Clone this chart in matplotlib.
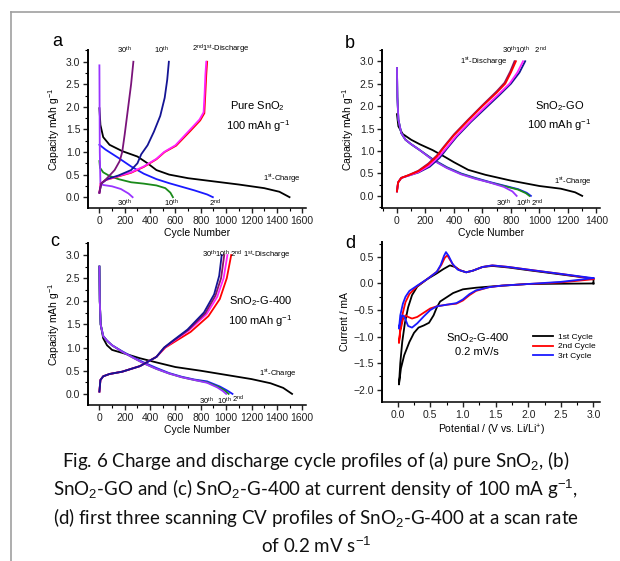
import numpy as np
import matplotlib
matplotlib.use('Agg')
import matplotlib.pyplot as plt
from matplotlib.ticker import MultipleLocator, AutoMinorLocator
from matplotlib.lines import Line2D

plt.rcParams['font.family'] = 'Liberation Sans'
plt.rcParams['mathtext.fontset'] = 'custom'
plt.rcParams['mathtext.rm'] = 'Liberation Sans'
plt.rcParams['mathtext.it'] = 'Liberation Sans'

# ---- panel a: pure SnO2 ----
a_ch1_x = [0, 8, 30, 80, 180, 300, 380, 450, 550, 700, 900, 1100, 1300, 1420, 1500]
a_ch1_y = [1.97, 1.6, 1.33, 1.16, 1.02, 0.9, 0.75, 0.6, 0.5, 0.42, 0.35, 0.28, 0.2, 0.12, 0.0]
a_ch2_x = [0, 50, 150, 250, 350, 450, 550, 650, 750, 850, 895]
a_ch2_y = [1.16, 1.05, 0.87, 0.68, 0.52, 0.4, 0.31, 0.23, 0.15, 0.06, 0.0]
a_ch10_x = [0, 5, 30, 80, 150, 250, 350, 450, 520, 560, 580]
a_ch10_y = [0.8, 0.65, 0.55, 0.47, 0.4, 0.33, 0.3, 0.26, 0.2, 0.1, 0.0]
a_ch30_x = [0, 3, 8, 30, 100, 170, 230, 262]
a_ch30_y = [2.92, 1.0, 0.3, 0.27, 0.24, 0.18, 0.08, 0.0]
a_dis1_x = [0, 10, 50, 150, 250, 350, 450, 510, 600, 710, 790, 822, 830, 836, 843]
a_dis1_y = [0.1, 0.3, 0.38, 0.47, 0.55, 0.68, 0.85, 1.0, 1.15, 1.48, 1.72, 1.88, 2.3, 2.7, 3.0]
a_dis2_x = [0, 10, 50, 150, 250, 350, 450, 515, 605, 715, 795, 828, 836, 843, 850]
a_dis2_y = [0.1, 0.3, 0.38, 0.46, 0.54, 0.67, 0.84, 1.0, 1.14, 1.46, 1.7, 1.86, 2.3, 2.7, 3.0]
a_dis10_x = [0, 15, 60, 150, 250, 300, 330, 380, 430, 480, 515, 535, 548]
a_dis10_y = [0.1, 0.3, 0.4, 0.48, 0.6, 0.75, 0.95, 1.15, 1.45, 1.8, 2.2, 2.6, 3.0]
a_dis30_x = [0, 15, 60, 120, 160, 180, 200, 225, 250, 268]
a_dis30_y = [0.1, 0.3, 0.42, 0.6, 0.8, 1.0, 1.4, 1.95, 2.5, 3.0]

# ---- panel b: SnO2-GO ----
b_ch1_x = [0, 10, 40, 100, 160, 250, 330, 400, 500, 620, 800, 1000, 1150, 1250, 1300]
b_ch1_y = [1.82, 1.55, 1.38, 1.25, 1.15, 1.02, 0.88, 0.75, 0.58, 0.47, 0.34, 0.22, 0.16, 0.08, 0.0]
b_ch2_x = [0, 3, 10, 30, 60, 100, 160, 250, 350, 450, 550, 650, 750, 850, 910, 940]
b_ch2_y = [2.85, 2.2, 1.7, 1.4, 1.25, 1.15, 1.02, 0.82, 0.64, 0.5, 0.4, 0.31, 0.23, 0.15, 0.07, 0.0]
b_ch10_x = [0, 3, 10, 30, 60, 100, 160, 250, 350, 450, 550, 650, 750, 850, 905, 930]
b_ch10_y = [2.85, 2.2, 1.7, 1.4, 1.25, 1.15, 1.02, 0.81, 0.63, 0.49, 0.39, 0.3, 0.22, 0.14, 0.06, 0.0]
b_ch30_x = [0, 3, 10, 30, 60, 100, 160, 250, 350, 450, 550, 650, 750, 810, 840]
b_ch30_y = [2.85, 2.2, 1.7, 1.4, 1.25, 1.15, 1.02, 0.8, 0.62, 0.48, 0.38, 0.3, 0.2, 0.1, 0.0]
b_dis1_x = [0, 8, 30, 80, 150, 220, 280, 330, 400, 500, 600, 700, 760, 800, 835]
b_dis1_y = [0.1, 0.3, 0.4, 0.46, 0.55, 0.7, 0.88, 1.08, 1.35, 1.68, 2.0, 2.3, 2.5, 2.75, 3.0]
b_dis30_x = [0, 8, 30, 80, 150, 220, 280, 330, 400, 500, 600, 700, 755, 795, 825]
b_dis30_y = [0.1, 0.3, 0.4, 0.46, 0.56, 0.72, 0.9, 1.1, 1.37, 1.7, 2.02, 2.33, 2.52, 2.77, 3.0]
b_dis10_x = [0, 8, 30, 80, 150, 225, 290, 345, 415, 515, 615, 715, 790, 845, 885]
b_dis10_y = [0.1, 0.3, 0.4, 0.45, 0.53, 0.67, 0.86, 1.06, 1.33, 1.66, 1.97, 2.27, 2.5, 2.75, 3.0]
b_dis2_x = [0, 8, 30, 80, 150, 230, 300, 350, 420, 520, 620, 720, 800, 860, 900]
b_dis2_y = [0.1, 0.3, 0.4, 0.45, 0.52, 0.65, 0.85, 1.05, 1.32, 1.65, 1.95, 2.25, 2.5, 2.75, 3.0]

# ---- panel c: SnO2-G-400 ----
c_ch1_x = [0, 3, 10, 30, 60, 100, 200, 320, 450, 600, 800, 1000, 1200, 1350, 1450, 1520]
c_ch1_y = [2.75, 2.0, 1.5, 1.2, 1.05, 0.95, 0.87, 0.77, 0.68, 0.58, 0.5, 0.41, 0.32, 0.23, 0.13, 0.0]
c_ch2_x = [0, 3, 10, 30, 60, 100, 180, 260, 350, 450, 550, 650, 750, 850, 950, 1010, 1050]
c_ch2_y = [2.75, 2.0, 1.5, 1.25, 1.15, 1.05, 0.92, 0.8, 0.68, 0.56, 0.45, 0.37, 0.31, 0.27, 0.16, 0.07, 0.0]
c_ch10_x = [0, 3, 10, 30, 60, 100, 180, 260, 350, 450, 550, 650, 750, 850, 940, 990, 1020]
c_ch10_y = [2.75, 2.0, 1.5, 1.25, 1.15, 1.05, 0.91, 0.79, 0.66, 0.54, 0.44, 0.36, 0.3, 0.25, 0.15, 0.07, 0.0]
c_ch30_x = [0, 3, 10, 30, 60, 100, 180, 260, 350, 450, 550, 650, 750, 850, 930, 975, 1000]
c_ch30_y = [2.75, 2.0, 1.5, 1.25, 1.15, 1.05, 0.91, 0.79, 0.66, 0.54, 0.44, 0.36, 0.3, 0.24, 0.14, 0.06, 0.0]
c_dis1_x = [0, 8, 30, 80, 180, 320, 450, 520, 590, 720, 860, 950, 1005, 1040]
c_dis1_y = [0.05, 0.3, 0.38, 0.43, 0.48, 0.6, 0.8, 1.0, 1.12, 1.34, 1.68, 2.05, 2.5, 3.0]
c_dis2_x = [0, 8, 30, 80, 180, 320, 450, 515, 580, 705, 845, 930, 980, 1010]
c_dis2_y = [0.05, 0.3, 0.38, 0.43, 0.48, 0.6, 0.8, 1.0, 1.13, 1.37, 1.72, 2.1, 2.5, 3.0]
c_dis10_x = [0, 8, 30, 80, 180, 320, 450, 512, 575, 700, 835, 915, 960, 985]
c_dis10_y = [0.05, 0.3, 0.38, 0.43, 0.48, 0.6, 0.8, 1.0, 1.13, 1.38, 1.74, 2.12, 2.5, 3.0]
c_dis30_x = [0, 8, 30, 80, 180, 320, 450, 510, 570, 695, 825, 905, 945, 965]
c_dis30_y = [0.05, 0.3, 0.38, 0.43, 0.48, 0.6, 0.8, 1.0, 1.13, 1.39, 1.76, 2.15, 2.55, 3.0]

# ---- panel d: CV of SnO2-G-400 ----
d_cyc1_x = [3.0, 2.5, 2.0, 1.5, 1.2, 1.0, 0.85, 0.75, 0.65, 0.6, 0.55, 0.48, 0.4, 0.32, 0.25, 0.18, 0.1, 0.05, 0.02,
            0.04, 0.07, 0.11, 0.16, 0.22, 0.3, 0.45, 0.6, 0.7, 0.8, 0.88, 0.95, 1.05, 1.15, 1.3, 1.45, 1.7, 2.0, 2.5, 3.0, 3.0]
d_cyc1_y = [0.0, -0.005, -0.01, -0.05, -0.08, -0.11, -0.18, -0.26, -0.34, -0.45, -0.6, -0.74, -0.79, -0.83, -0.93, -1.1, -1.35, -1.6, -1.9,
            -1.5, -1.1, -0.75, -0.45, -0.22, -0.06, 0.08, 0.19, 0.27, 0.34, 0.31, 0.25, 0.21, 0.24, 0.31, 0.33, 0.3, 0.25, 0.17, 0.09, 0.0]
d_cyc2_x = [3.0, 2.5, 2.0, 1.6, 1.4, 1.2, 1.1, 1.0, 0.9, 0.75, 0.6, 0.5, 0.4, 0.3, 0.22, 0.16, 0.12, 0.08, 0.04, 0.02,
            0.04, 0.08, 0.12, 0.18, 0.3, 0.45, 0.6, 0.67, 0.72, 0.76, 0.8, 0.86, 0.95, 1.05, 1.15, 1.3, 1.45, 1.7, 2.0, 2.5, 3.0]
d_cyc2_y = [0.08, 0.02, -0.01, -0.04, -0.07, -0.14, -0.22, -0.32, -0.38, -0.4, -0.43, -0.47, -0.55, -0.63, -0.66, -0.63, -0.6, -0.68, -0.9, -1.12,
            -0.85, -0.55, -0.35, -0.2, -0.05, 0.08, 0.22, 0.35, 0.48, 0.53, 0.45, 0.33, 0.25, 0.21, 0.24, 0.31, 0.34, 0.31, 0.26, 0.18, 0.09]
d_cyc3_x = [3.0, 2.5, 2.0, 1.6, 1.4, 1.2, 1.1, 1.0, 0.9, 0.75, 0.6, 0.5, 0.4, 0.3, 0.22, 0.16, 0.1, 0.07, 0.04, 0.02,
            0.04, 0.08, 0.12, 0.18, 0.3, 0.45, 0.6, 0.66, 0.71, 0.74, 0.78, 0.84, 0.92, 1.05, 1.15, 1.3, 1.45, 1.7, 2.0, 2.5, 3.0]
d_cyc3_y = [0.1, 0.03, -0.01, -0.04, -0.07, -0.13, -0.2, -0.3, -0.37, -0.4, -0.43, -0.5, -0.62, -0.75, -0.83, -0.8, -0.62, -0.6, -0.72, -0.85,
            -0.6, -0.38, -0.25, -0.14, -0.04, 0.08, 0.22, 0.35, 0.52, 0.59, 0.52, 0.37, 0.26, 0.21, 0.24, 0.31, 0.34, 0.31, 0.26, 0.18, 0.1]
d_labels = ['1st Cycle', '2nd Cycle', '3rt Cycle']

caption = [r'Fig. 6 Charge and discharge cycle profiles of (a) pure SnO$_2$, (b)',
           r'SnO$_2$-GO and (c) SnO$_2$-G-400 at current density of 100 mA g$^{-1}$,',
           r'(d) first three scanning CV profiles of SnO$_2$-G-400 at a scan rate',
           r'of 0.2 mV s$^{-1}$']

W, H = 620, 561
fig = plt.figure(figsize=(W / 100, H / 100), dpi=100)


def box(l, r, b, t):
    return [l / W, 1 - b / H, (r - l) / W, (b - t) / H]


def style(ax, xmaj, ymaj):
    for s in ['top', 'right']:
        ax.spines[s].set_visible(False)
    ax.spines['left'].set_linewidth(1.4)
    ax.spines['bottom'].set_linewidth(1.1)
    ax.xaxis.set_major_locator(MultipleLocator(xmaj))
    ax.yaxis.set_major_locator(MultipleLocator(ymaj))
    ax.xaxis.set_minor_locator(AutoMinorLocator(2))
    ax.yaxis.set_minor_locator(AutoMinorLocator(2))
    ax.tick_params(which='major', direction='out', length=3.5, width=1, labelsize=7.5, pad=2, colors='#222222')
    ax.tick_params(which='minor', direction='out', length=2, width=0.8)


sup = lambda n, s: n + r'$^{\mathrm{' + s + '}}$'
lw = 1.3

# panel a
ax = fig.add_axes(box(88, 306, 208, 50))
ax.plot(a_ch1_x, a_ch1_y, color='black', lw=lw)
ax.plot(a_ch2_x, a_ch2_y, color='#1a1aff', lw=lw)
ax.plot(a_ch10_x, a_ch10_y, color='#1a8a1a', lw=lw)
ax.plot(a_ch30_x, a_ch30_y, color='#9933ff', lw=lw)
ax.plot(a_dis2_x, a_dis2_y, color='red', lw=lw)
ax.plot(a_dis1_x, a_dis1_y, color='#ff22ff', lw=lw)
ax.plot(a_dis10_x, a_dis10_y, color='#141494', lw=lw)
ax.plot(a_dis30_x, a_dis30_y, color='#7a137a', lw=lw)
ax.set_xlim(-90, 1630)
ax.set_ylim(-0.24, 3.26)
style(ax, 200, 0.5)
fs = 5.5
ax.text(200, 3.13, sup('30', 'th'), fontsize=fs, ha='center', va='bottom')
ax.text(490, 3.13, sup('10', 'th'), fontsize=fs, ha='center', va='bottom')
ax.text(730, 3.13, sup('2', 'nd') + sup('1', 'st') + '-Discharge', fontsize=fs, ha='left', va='bottom')
ax.text(1250, 1.78, 'Pure SnO$_2$\n100 mAh g$^{-1}$', fontsize=8, ha='center', va='center', linespacing=1.4)
ax.text(1290, 0.27, sup('1', 'st') + '-Charge', fontsize=fs, ha='left', va='bottom')
ax.text(200, -0.02, sup('30', 'th'), fontsize=fs, ha='center', va='top')
ax.text(570, -0.02, sup('10', 'th'), fontsize=fs, ha='center', va='top')
ax.text(910, -0.02, sup('2', 'nd'), fontsize=fs, ha='center', va='top')
ax.set_xlabel('Cycle Number', fontsize=7.5, labelpad=2)
ax.set_ylabel('Capacity mAh g$^{-1}$', fontsize=7.5, labelpad=3)
fig.text(52 / W, 1 - 42 / H, 'a', fontsize=13, ha='left', va='center')

# panel b
ax = fig.add_axes(box(382, 600, 208, 50))
ax.plot(b_ch1_x, b_ch1_y, color='black', lw=lw)
ax.plot(b_ch2_x, b_ch2_y, color='#1a1aff', lw=lw)
ax.plot(b_ch10_x, b_ch10_y, color='#1a8a1a', lw=lw)
ax.plot(b_ch30_x, b_ch30_y, color='#9933ff', lw=lw)
ax.plot(b_dis2_x, b_dis2_y, color='#141494', lw=lw)
ax.plot(b_dis10_x, b_dis10_y, color='#ff22ff', lw=lw)
ax.plot(b_dis30_x, b_dis30_y, color='#8a1560', lw=lw)
ax.plot(b_dis1_x, b_dis1_y, color='red', lw=lw)
ax.set_xlim(-105, 1425)
ax.set_ylim(-0.27, 3.25)
style(ax, 200, 0.5)
ax.text(440, 2.98, sup('1', 'st') + '-Discharge', fontsize=fs, ha='left', va='center')
ax.text(735, 3.12, sup('30', 'th') + sup('10', 'th') + '   ' + sup('2', 'nd'), fontsize=fs, ha='left', va='bottom')
ax.text(1140, 1.78, 'SnO$_2$-GO\n100 mAh g$^{-1}$', fontsize=8, ha='center', va='center', linespacing=1.4)
ax.text(1105, 0.18, sup('1', 'st') + '-Charge', fontsize=fs, ha='left', va='bottom')
ax.text(745, -0.04, sup('30', 'th'), fontsize=fs, ha='center', va='top')
ax.text(885, -0.04, sup('10', 'th'), fontsize=fs, ha='center', va='top')
ax.text(985, -0.04, sup('2', 'nd'), fontsize=fs, ha='center', va='top')
ax.set_xlabel('Cycle Number', fontsize=7.5, labelpad=2)
ax.set_ylabel('Capacity mAh g$^{-1}$', fontsize=7.5, labelpad=3)
fig.text(345 / W, 1 - 44 / H, 'b', fontsize=13, ha='left', va='center')

# panel c
ax = fig.add_axes(box(88, 306, 405, 243))
ax.plot(c_ch1_x, c_ch1_y, color='black', lw=lw)
ax.plot(c_ch2_x, c_ch2_y, color='#1a1aff', lw=lw)
ax.plot(c_ch10_x, c_ch10_y, color='#1a8a1a', lw=lw)
ax.plot(c_ch30_x, c_ch30_y, color='#9933ff', lw=lw)
ax.plot(c_dis1_x, c_dis1_y, color='red', lw=lw)
ax.plot(c_dis2_x, c_dis2_y, color='#ff22ff', lw=lw)
ax.plot(c_dis10_x, c_dis10_y, color='#8a1560', lw=lw)
ax.plot(c_dis30_x, c_dis30_y, color='#141494', lw=lw)
ax.set_xlim(-90, 1630)
ax.set_ylim(-0.24, 3.26)
style(ax, 200, 0.5)
ax.text(810, 3.0, sup('30', 'th') + sup('10', 'th') + ' ' + sup('2', 'nd') + ' ' + sup('1', 'st') + '-Discharge',
        fontsize=fs, ha='left', va='center')
ax.text(1270, 1.78, 'SnO$_2$-G-400\n100 mAh g$^{-1}$', fontsize=8, ha='center', va='center', linespacing=1.4)
ax.text(1260, 0.3, sup('1', 'st') + '-Charge', fontsize=fs, ha='left', va='bottom')
ax.text(840, -0.03, sup('30', 'th'), fontsize=fs, ha='center', va='top')
ax.text(985, -0.03, sup('10', 'th'), fontsize=fs, ha='center', va='top')
ax.text(1090, -0.0, sup('2', 'nd'), fontsize=fs, ha='center', va='top')
ax.set_xlabel('Cycle Number', fontsize=7.5, labelpad=2)
ax.set_ylabel('Capacity mAh g$^{-1}$', fontsize=7.5, labelpad=3)
fig.text(50 / W, 1 - 242 / H, 'c', fontsize=13, ha='left', va='center')

# panel d
ax = fig.add_axes(box(382, 600, 402, 242))
for xs, ys, c, lab in [(d_cyc1_x, d_cyc1_y, 'black', d_labels[0]),
                       (d_cyc2_x, d_cyc2_y, 'red', d_labels[1]),
                       (d_cyc3_x, d_cyc3_y, '#1a1aff', d_labels[2])]:
    ax.plot(xs, ys, color=c, lw=lw, label=lab)
ax.set_xlim(-0.24, 3.1)
ax.set_ylim(-2.23, 0.78)
style(ax, 0.5, 0.5)
ax.text(1.22, -1.14, 'SnO$_2$-G-400\n0.2 mV/s', fontsize=8, ha='center', va='center', linespacing=1.2)
ax.legend(loc='upper left', bbox_to_anchor=(0.66, 0.48), frameon=False, fontsize=6,
          handlelength=2.4, labelspacing=0.25, handletextpad=0.5)
ax.set_xlabel('Potential / (V vs. Li/Li$^{+}$)', fontsize=7.5, labelpad=2)
ax.set_ylabel('Current / mA', fontsize=7.5, labelpad=3)
fig.text(345 / W, 1 - 243 / H, 'd', fontsize=13, ha='left', va='center')

# caption
for i, line in enumerate(caption):
    fig.text(316 / W, 1 - (467 + i * 28.6) / H, line, fontsize=13.5, ha='center', va='baseline',
             family='Lato', color='#111111')

# page frame
fig.add_artist(Line2D([11 / W, 11 / W], [0, 1 - 12 / H], color='#a0a0a0', lw=1.2))
fig.add_artist(Line2D([11 / W, 1], [1 - 12 / H, 1 - 12 / H], color='#a0a0a0', lw=1.2))

fig.savefig('out.png', dpi=100)
